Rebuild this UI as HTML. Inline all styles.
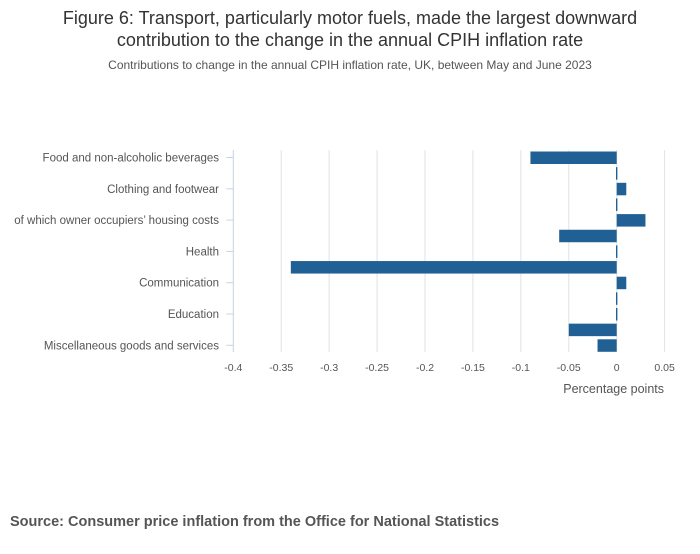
<!DOCTYPE html>
<html><head><meta charset="utf-8"><style>
body{margin:0;background:#fff;font-family:"Liberation Sans","DejaVu Sans",sans-serif}
svg text{font-family:"Liberation Sans","DejaVu Sans",sans-serif}
</style></head><body>
<svg width="700" height="549">
<text x="350" y="24" text-anchor="middle" font-size="18" fill="#333">Figure 6: Transport, particularly motor fuels, made the largest downward</text>
<text x="350" y="46" text-anchor="middle" font-size="18" fill="#333">contribution to the change in the annual CPIH inflation rate</text>
<text x="350" y="69" text-anchor="middle" font-size="12" fill="#555">Contributions to change in the annual CPIH inflation rate, UK, between May and June 2023</text>
<g id="grid"></g><g id="bars"></g><g id="axes"></g>
<text x="664" y="393" text-anchor="end" font-size="12.5" fill="#555">Percentage points</text>
<text x="10" y="526" font-size="14.5" font-weight="bold" fill="#555">Source: Consumer price inflation from the Office for National Statistics</text>
</svg>
<script>
const categories=["Food and non-alcoholic beverages","Alcohol and tobacco","Clothing and footwear","Housing and household services","of which owner occupiers’ housing costs","Furniture and household goods","Health","Transport","Communication","Recreation and culture","Education","Restaurants and hotels","Miscellaneous goods and services"];
const values=[-0.09,0,0.01,0,0.03,-0.06,0,-0.34,0.01,0,0,-0.05,-0.02];
const xTicks=[-0.4,-0.35,-0.3,-0.25,-0.2,-0.15,-0.1,-0.05,0,0.05];
const xTickLabels=["-0.4","-0.35","-0.3","-0.25","-0.2","-0.15","-0.1","-0.05","0","0.05"];
(function(){
const NS="http://www.w3.org/2000/svg";
const x0=233.3,x1=616.7;
const xs=v=>x0+(v+0.4)*(x1-x0)/0.4;
const plotTop=150,plotBottom=352,first=157.5,step=15.65;
const ys=i=>first+i*step;
function mk(t,a,p){const e=document.createElementNS(NS,t);for(const k in a)e.setAttribute(k,a[k]);p.appendChild(e);return e;}
const grid=document.getElementById('grid'),bars=document.getElementById('bars'),axes=document.getElementById('axes');
xTicks.forEach((v,i)=>{
 if(v!==-0.4){const l=mk('line',{x1:xs(v),x2:xs(v),y1:plotTop,y2:plotBottom,stroke:'#e2e2e2','stroke-width':1},grid);
 
 }
 const t=mk('text',{x:xs(v),y:371,'text-anchor':'middle','font-size':10.5,fill:'#555'},axes);t.textContent=xTickLabels[i];
 
 
});
const ax=mk('line',{x1:x0,x2:x0,y1:plotTop,y2:plotBottom,stroke:'#c8d2e6','stroke-width':1},axes);


categories.forEach((c,i)=>{
 const v=values[i];let a=xs(Math.min(v,0)),b=xs(Math.max(v,0));
 if(b-a<1){a=xs(0)-0.7;b=xs(0)+0.7;}
 const r=mk('rect',{x:a,y:ys(i)-6,width:b-a,height:12.5,fill:'#206095'},bars);
 
 
 if(i%2===0){
  const tk=mk('line',{x1:x0-7,x2:x0,y1:ys(i),y2:ys(i),stroke:'#c8d2e6','stroke-width':1},axes);
  
  
  const t=mk('text',{x:219,y:ys(i)+4,'text-anchor':'end','font-size':11.5,fill:'#555'},axes);t.textContent=c;
  
  
 }
});
})();
</script>
</body></html>
